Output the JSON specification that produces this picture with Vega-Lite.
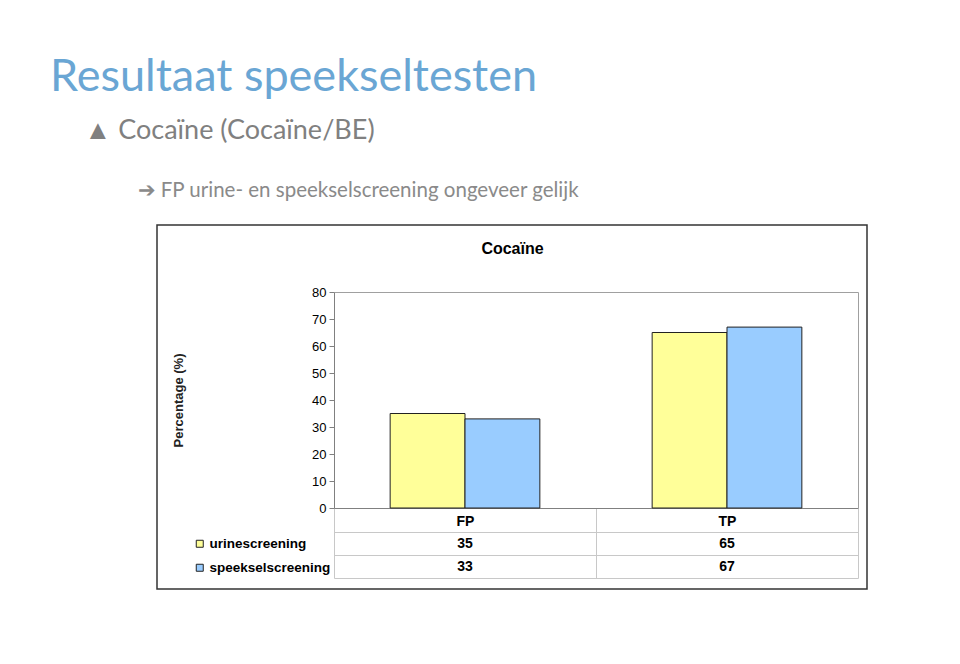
{
  "$schema": "https://vega.github.io/schema/vega-lite/v6.json",
  "width": 710,
  "height": 364,
  "autosize": {"type": "none"},
  "padding": {"left": 157, "top": 225, "right": 93, "bottom": 75},
  "background": "white",
  "config": {
    "view": {"stroke": "#333333", "strokeWidth": 1.5, "fill": "white"},
    "font": "Liberation Sans"
  },
  "title": {
    "text": "Resultaat speekseltesten",
    "subtitle": "\u200b\u00a0\u00a0\u00a0\u00a0\u00a0▲ Cocaïne (Cocaïne/BE)",
    "anchor": "start",
    "frame": "group",
    "orient": "top",
    "dx": -107,
    "offset": 36,
    "font": "Lato",
    "fontSize": 45,
    "fontWeight": "normal",
    "color": "#6aa6d4",
    "subtitleFont": "Lato",
    "subtitleFontSize": 27,
    "subtitleColor": "#808080",
    "subtitlePadding": 18
  },
  "datasets": {
    "screening": [
      {"categorie": "FP", "methode": "urinescreening", "percentage": 35},
      {"categorie": "FP", "methode": "speekselscreening", "percentage": 33},
      {"categorie": "TP", "methode": "urinescreening", "percentage": 65},
      {"categorie": "TP", "methode": "speekselscreening", "percentage": 67}
    ]
  },
  "data": {"name": "screening"},
  "layer": [
    {
      "layer": [
        {
          "mark": {"type": "bar", "stroke": "#222222", "strokeWidth": 1},
          "encoding": {
            "x": {
              "field": "categorie",
              "type": "nominal",
              "scale": {"domain": ["FP", "TP"], "range": [177, 701], "paddingInner": 0, "paddingOuter": 0},
              "axis": {
                "orient": "bottom",
                "offset": -81,
                "title": null,
                "labelAngle": 0,
                "labelFontSize": 14,
                "labelFontWeight": "bold",
                "labelColor": "#000000",
                "domainColor": "#808080",
                "tickBand": "extent",
                "tickSize": 70,
                "tickColor": "#c8c8c8",
                "labelPadding": -64
              }
            },
            "xOffset": {
              "field": "methode",
              "type": "nominal",
              "scale": {"domain": ["urinescreening", "speekselscreening"], "paddingInner": 0, "paddingOuter": 0.75}
            },
            "y": {
              "field": "percentage",
              "type": "quantitative",
              "scale": {"domain": [0, 80], "range": [283, 67], "nice": false},
              "axis": {
                "orient": "left",
                "offset": -177,
                "values": [0, 10, 20, 30, 40, 50, 60, 70, 80],
                "grid": false,
                "tickSize": 5,
                "tickColor": "#808080",
                "domainColor": "#808080",
                "labelFontSize": 13,
                "labelColor": "#000000",
                "labelPadding": 3,
                "title": "Percentage (%)",
                "titleFontSize": 13,
                "titleFontWeight": "bold",
                "titleColor": "#222222",
                "titlePadding": 126
              }
            },
            "color": {
              "field": "methode",
              "type": "nominal",
              "scale": {"domain": ["urinescreening", "speekselscreening"], "range": ["#FFFF99", "#99CCFF"]},
              "legend": {
                "orient": "none",
                "legendX": 36,
                "legendY": 312,
                "title": null,
                "padding": 0,
                "symbolType": "square",
                "symbolSize": 49,
                "symbolStrokeColor": "#222222",
                "symbolStrokeWidth": 1,
                "labelFontSize": 13.5,
                "labelFontWeight": "bold",
                "labelColor": "#000000",
                "labelOffset": 3,
                "rowPadding": 9
              }
            }
          }
        },
        {
          "mark": {"type": "bar", "opacity": 0},
          "encoding": {
            "x": {
              "field": "categorie",
              "type": "nominal",
              "axis": {
                "orient": "top",
                "offset": -67,
                "labels": false,
                "ticks": false,
                "domainColor": "#a0a0a0",
                "title": "Cocaïne",
                "titleFontSize": 16,
                "titleFontWeight": "bold",
                "titleColor": "#000000",
                "titleX": 355,
                "titleY": -39,
                "titleAlign": "center",
                "titleBaseline": "alphabetic"
              }
            },
            "xOffset": {"field": "methode", "type": "nominal"},
            "y": {
              "field": "percentage",
              "type": "quantitative",
              "axis": {
                "orient": "right",
                "offset": -9,
                "labels": false,
                "ticks": false,
                "grid": false,
                "domainColor": "#a0a0a0",
                "title": null
              }
            }
          }
        }
      ],
      "resolve": {"axis": {"x": "independent", "y": "independent"}}
    },
    {
      "mark": {"type": "text", "fontSize": 14, "fontWeight": "bold", "color": "#000000"},
      "encoding": {
        "x": {"field": "categorie", "type": "nominal", "axis": null},
        "y": {
          "field": "methode",
          "type": "nominal",
          "scale": {"domain": ["urinescreening", "speekselscreening"], "range": [307, 353], "paddingInner": 0, "paddingOuter": 0},
          "axis": {
            "orient": "left",
            "labels": false,
            "ticks": false,
            "domain": false,
            "grid": true,
            "tickBand": "extent",
            "gridColor": "#c8c8c8",
            "gridWidth": 1,
            "title": "➔ FP urine- en speekselscreening ongeveer gelijk",
            "titleAngle": 0,
            "titleAlign": "left",
            "titleBaseline": "alphabetic",
            "titleX": -20,
            "titleY": -29,
            "titleFont": "Lato",
            "titleFontSize": 20.5,
            "titleFontWeight": "normal",
            "titleColor": "#8a8a8a"
          }
        },
        "text": {"field": "percentage", "type": "quantitative"}
      }
    }
  ],
  "resolve": {"scale": {"y": "independent"}, "axis": {"y": "independent"}}
}
